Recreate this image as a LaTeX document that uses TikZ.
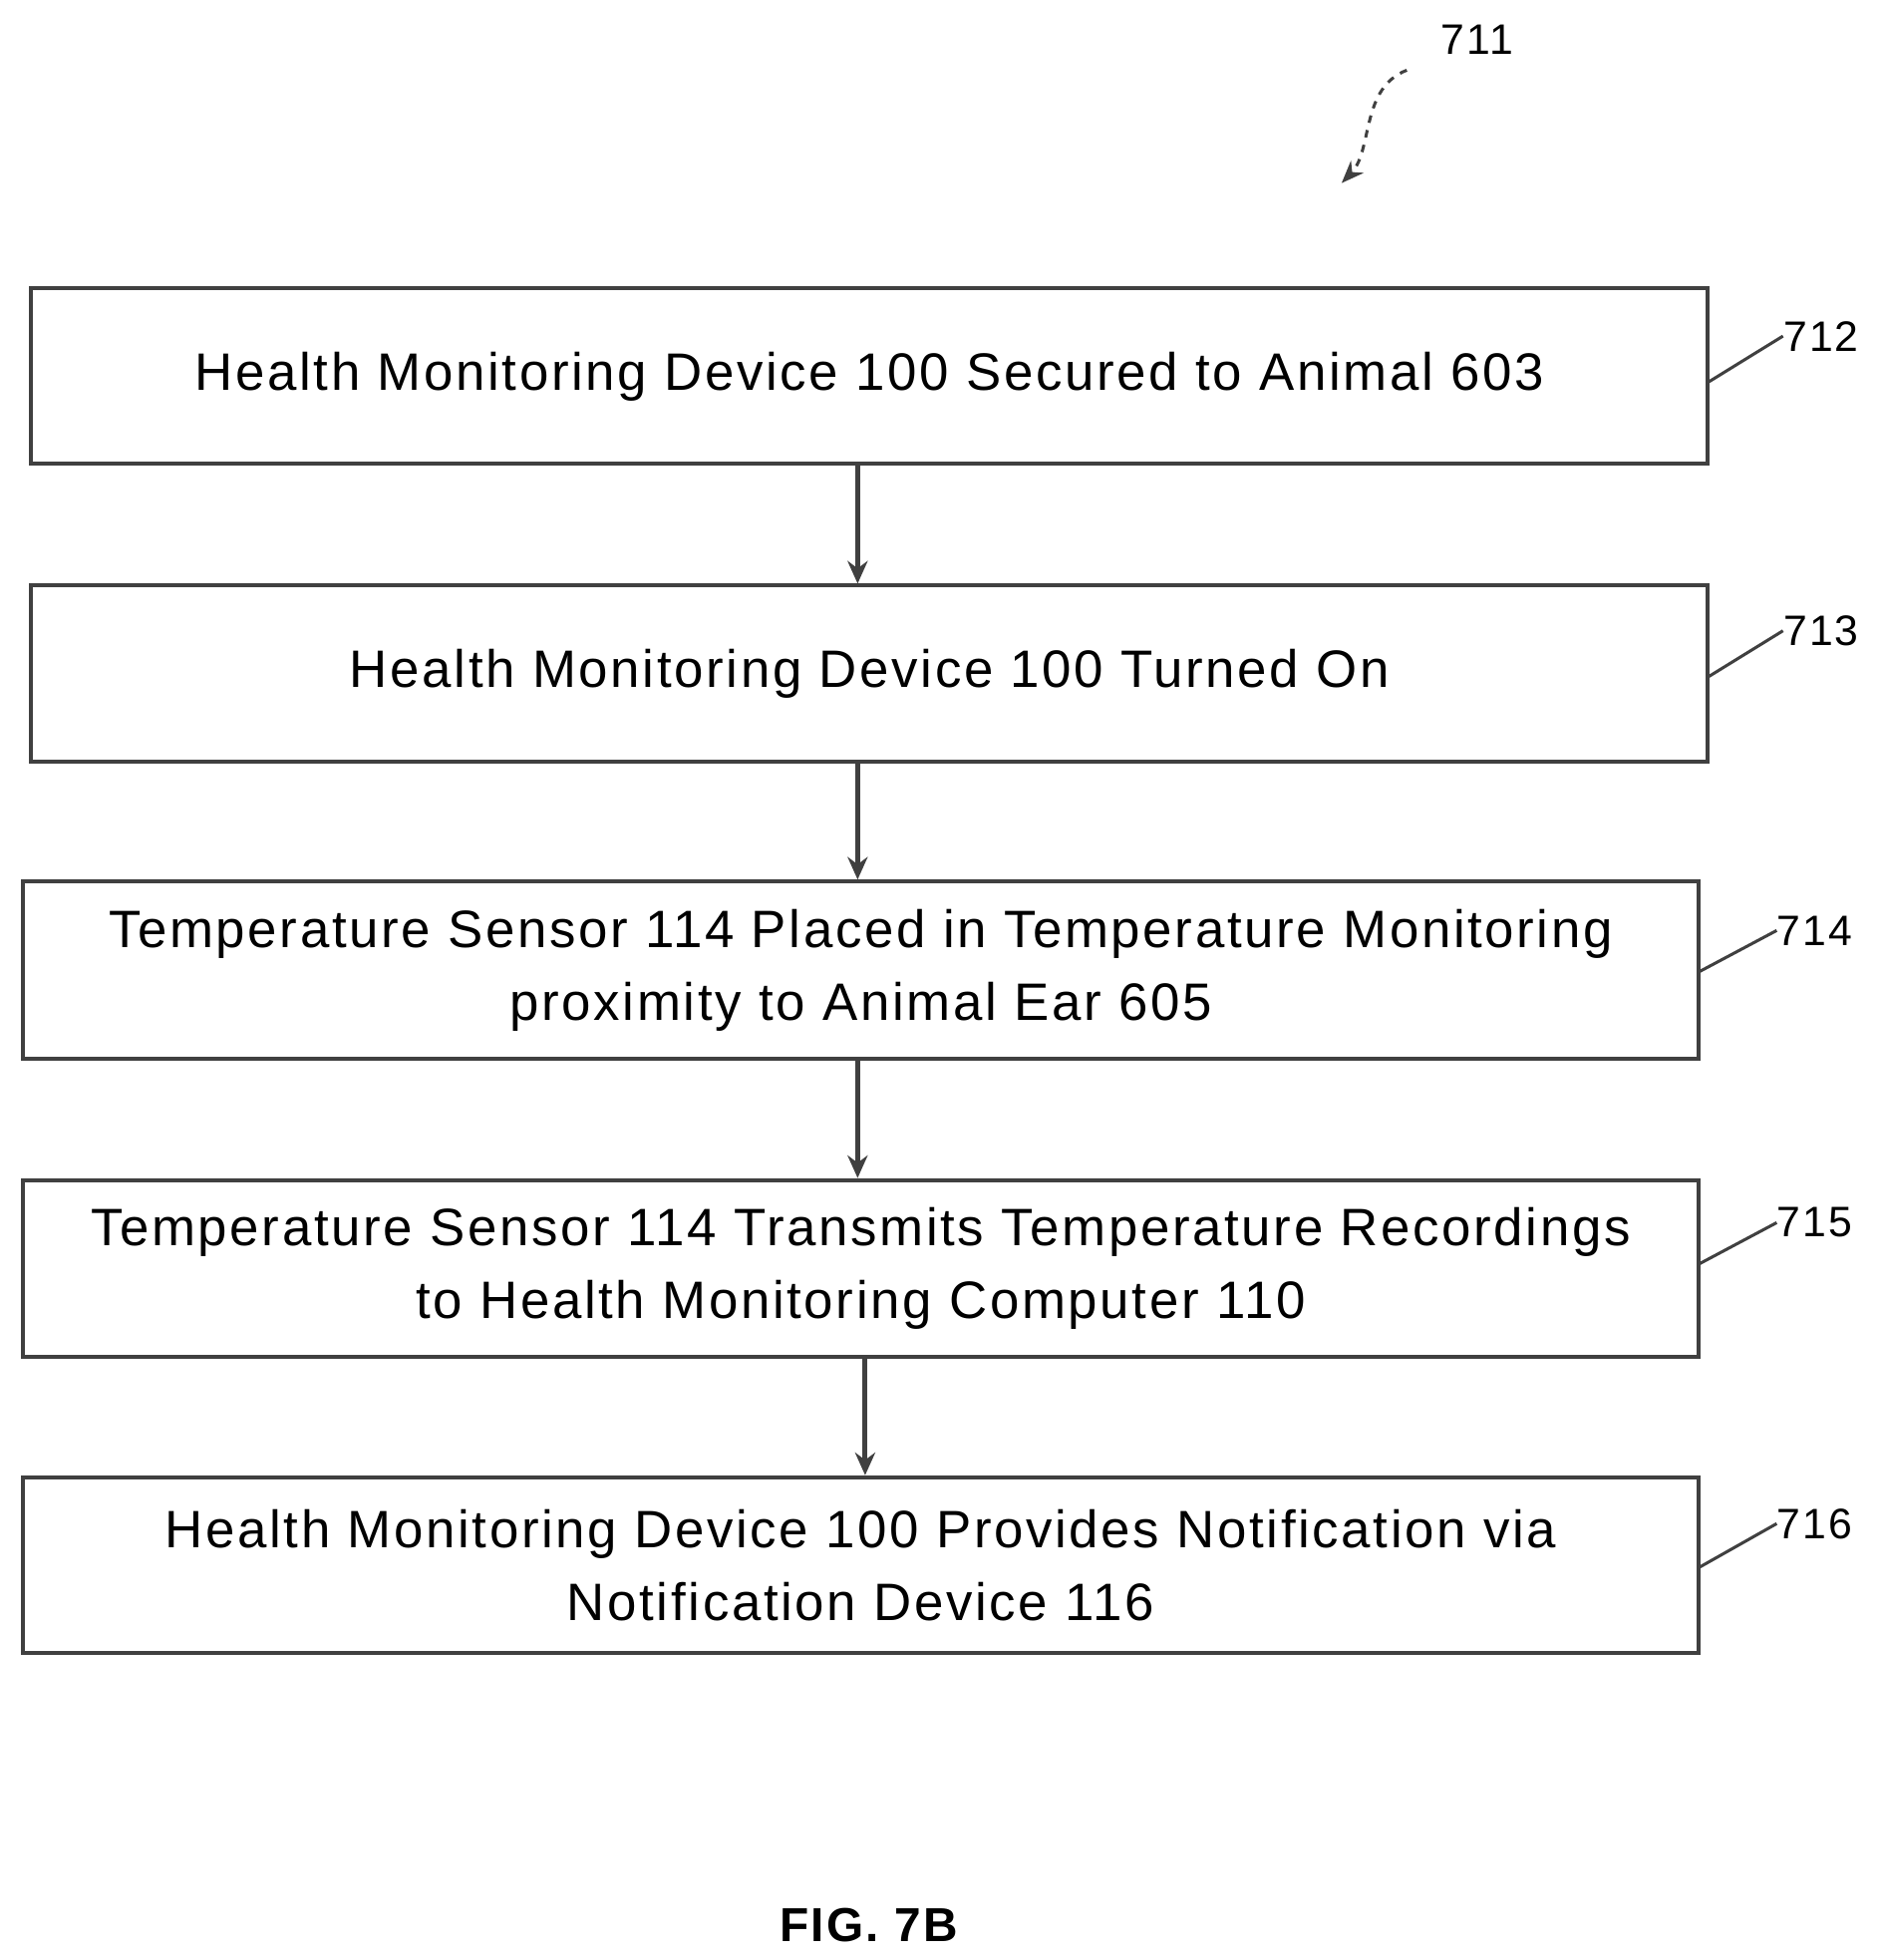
\documentclass[tikz,border=0pt]{standalone}
\usepackage{fontspec}
\setmainfont{Liberation Sans}
\newfontfamily\spaced[LetterSpace=5]{Liberation Sans}
\usetikzlibrary{arrows.meta}
\begin{document}
\begin{tikzpicture}[x=0.5pt,y=-0.5pt,
  box/.style={draw=black!75,line width=1.6pt,inner sep=0pt,align=center,font=\spaced\fontsize{21}{29}\selectfont},
  arr/.style={draw=black!75,line width=2pt,-{Stealth[length=9pt,width=8pt]}},
  lead/.style={draw=black!75,line width=1.2pt},
  lbl/.style={font=\spaced\fontsize{17}{20}\selectfont,anchor=west,inner sep=0pt}]
\useasboundingbox (0,0) rectangle (1500,1563);
\node[box,minimum width=668.5pt,minimum height=70pt] (b712) at (693.5,300) {Health Monitoring Device 100 Secured to Animal 603};
\node[box,minimum width=668.5pt,minimum height=70pt] (b713) at (693.5,537) {Health Monitoring Device 100 Turned On};
\node[box,minimum width=668.5pt,minimum height=70.5pt] (b714) at (686.5,773.5) {Temperature Sensor 114 Placed in Temperature Monitoring\\proximity to Animal Ear 605};
\node[box,minimum width=668.5pt,minimum height=70.5pt] (b715) at (686.5,1011.5) {Temperature Sensor 114 Transmits Temperature Recordings\\to Health Monitoring Computer 110};
\node[box,minimum width=668.5pt,minimum height=70pt] (b716) at (686.5,1248) {Health Monitoring Device 100 Provides Notification via\\Notification Device 116};
\draw[arr] (b712.south -| 684,0) -- (b713.north -| 684,0);
\draw[arr] (b713.south -| 684,0) -- (b714.north -| 684,0);
\draw[arr] (b714.south -| 684,0) -- (b715.north -| 684,0);
\draw[arr] (b715.south -| 690,0) -- (b716.north -| 690,0);
\node[lbl] (l712) at (1422,268) {712};
\node[lbl] (l713) at (1422,503) {713};
\node[lbl] (l714) at (1417,742) {714};
\node[lbl] (l715) at (1417,975) {715};
\node[lbl] (l716) at (1417,1215) {716};
\draw[lead] (1362,305) -- (l712.west);
\draw[lead] (1362,540) -- (l713.west);
\draw[lead] (1355,775) -- (l714.west);
\draw[lead] (1355,1008) -- (l715.west);
\draw[lead] (1355,1250) -- (l716.west);
\node[lbl,anchor=center] (l711) at (1178,32) {711};
\coordinate (s711) at (1122,56);
\draw[draw=black!75,line width=1.2pt,dashed,-{Stealth[length=9pt,width=7pt]}] (s711) .. controls (1085,70) and (1095,120) .. (1070,146);
\node[font=\spaced\bfseries\fontsize{19}{22}\selectfont] (fig) at (693,1535) {FIG. 7B};
\end{tikzpicture}
\end{document}
